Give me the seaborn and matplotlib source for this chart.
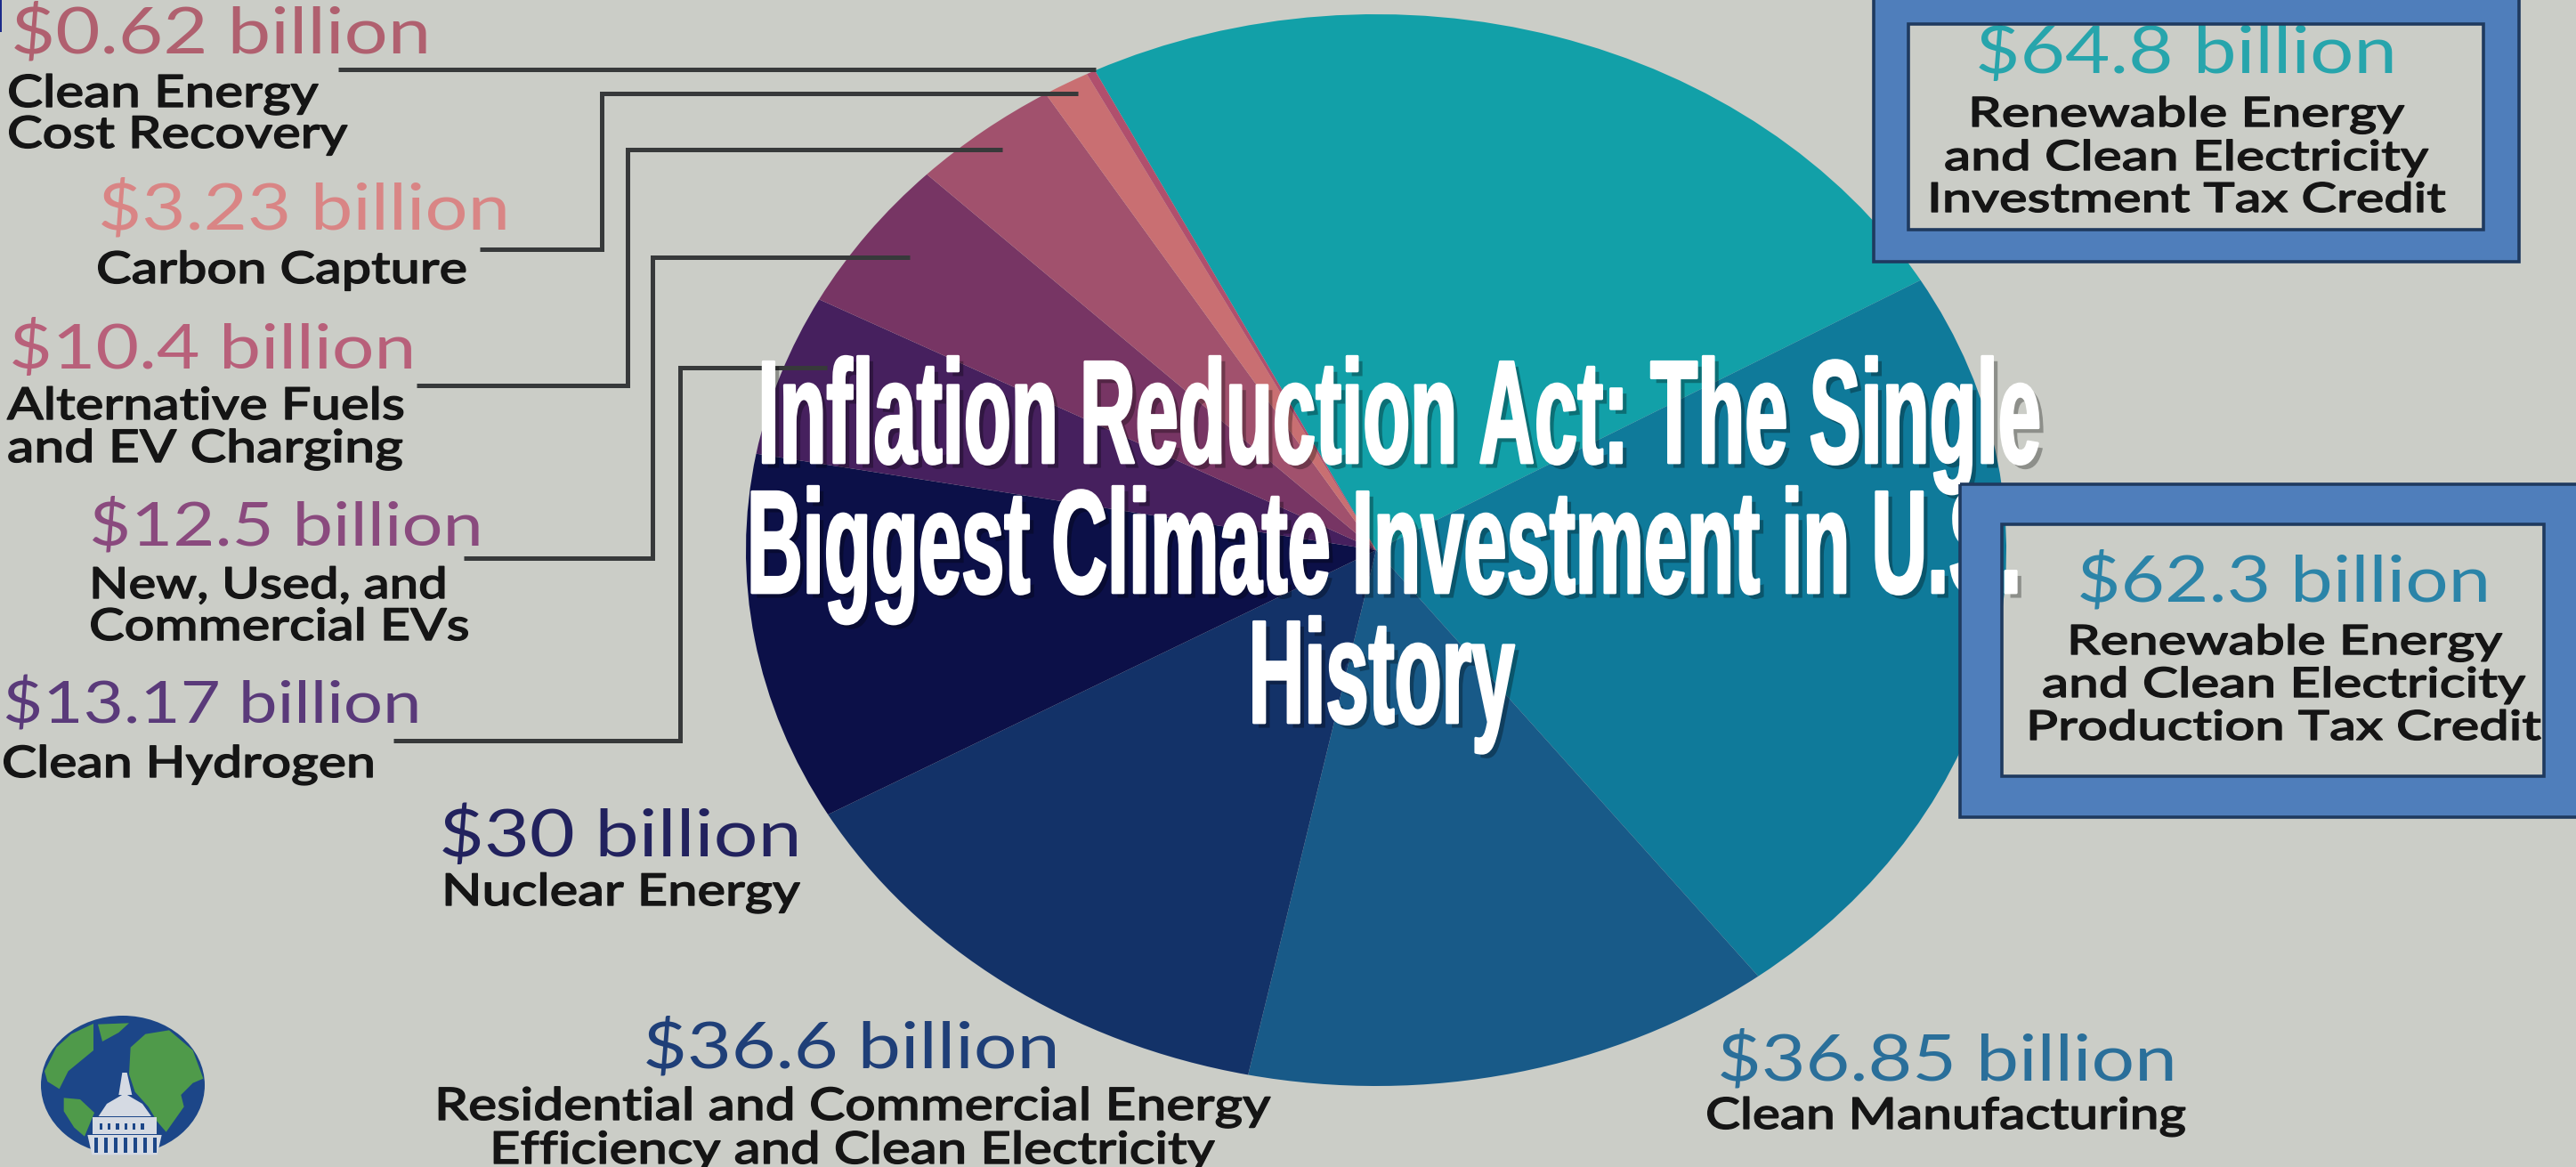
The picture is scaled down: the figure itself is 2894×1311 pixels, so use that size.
import os
import numpy as np
import seaborn as sns
import matplotlib
matplotlib.use("Agg")
import matplotlib.pyplot as plt
from matplotlib import font_manager as fm
from matplotlib import patheffects as pe
from matplotlib.patches import Ellipse, Polygon, Rectangle
from fontTools.ttLib import TTFont

W, H = 2894, 1311

# chart data, clockwise from the top of the pie
categories = [
    "Renewable Energy and Clean Electricity Investment Tax Credit",
    "Renewable Energy and Clean Electricity Production Tax Credit",
    "Clean Manufacturing",
    "Residential and Commercial Energy Efficiency and Clean Electricity",
    "Nuclear Energy",
    "Clean Hydrogen",
    "New, Used, and Commercial EVs",
    "Alternative Fuels and EV Charging",
    "Carbon Capture",
    "Clean Energy Cost Recovery",
]
values = [64.8, 62.3, 36.85, 36.6, 30, 13.17, 12.5, 10.4, 3.23, 0.62]
value_labels = ["$64.8 billion", "$62.3 billion", "$36.85 billion", "$36.6 billion",
                "$30 billion", "$13.17 billion", "$12.5 billion", "$10.4 billion",
                "$3.23 billion", "$0.62 billion"]
label_lines = [
    ["Renewable Energy", "and Clean Electricity", "Investment Tax Credit"],
    ["Renewable Energy", "and Clean Electricity", "Production Tax Credit"],
    ["Clean Manufacturing"],
    ["Residential and Commercial Energy", "Efficiency and Clean Electricity"],
    ["Nuclear Energy"],
    ["Clean Hydrogen"],
    ["New, Used, and", "Commercial EVs"],
    ["Alternative Fuels", "and EV Charging"],
    ["Carbon Capture"],
    ["Clean Energy", "Cost Recovery"],
]
title_lines = ["Inflation Reduction Act: The Single",
               "Biggest Climate Investment in U.S.",
               "History"]

# styles and layout (pixels of the final image)
bg = "#CBCDC7"
slice_colors = ["#12A0A8", "#0F7A9A", "#185A88", "#133268", "#0C1048",
                "#46205E", "#773564", "#A1516D", "#C96F72", "#B04F6D"]
value_colors = ["#27A5AC", "#2B84A8", "#2A6F9A", "#1F3F78", "#22225E",
                "#5A3A7A", "#8A4A7E", "#B8607A", "#D98585", "#B0606F"]
# x0, x1, baseline of the value, then the same for each label line
value_pos = [(2219, 2693, 82), (2333, 2798, 676), (1929, 2446, 1213), (722, 1191, 1200),
             (493, 900, 962), (3, 473, 812), (100, 543, 613), (10, 468, 414),
             (110, 572, 258), (12, 485, 60)]
line_pos = [
    [(2211, 2700, 142), (2184, 2727, 191), (2165, 2747, 238)],
    [(2322, 2810, 735), (2294, 2836, 783), (2276, 2854, 831)],
    [(1916, 2455, 1268)],
    [(488, 1426, 1258), (550, 1364, 1307)],
    [(496, 898, 1017)],
    [(2, 421, 873)],
    [(100, 502, 672), (100, 527, 719)],
    [(8, 454, 471), (8, 452, 519)],
    [(108, 524, 318)],
    [(8, 357, 120), (8, 390, 166)],
]
leaders = [
    [(380, 78), (1231, 78)],
    [(539, 280), (676, 280), (676, 105), (1211, 105)],
    [(468, 433), (705, 433), (705, 168), (1126, 168)],
    [(521, 627), (733, 627), (733, 289), (1022, 289)],
    [(442, 832), (764, 832), (764, 413), (929, 413)],
]
title_pos = [(1572, 520), (1555, 666), (1552, 812)]
cx, cy, rx, ry = 1546, 618, 708, 602


def stretched_font(family, weight, xscale):
    # no condensed/extended cuts installed, so write a scaled copy of the font
    src = fm.findfont(fm.FontProperties(family=family, weight=weight))
    font = TTFont(src)
    glyf = font["glyf"]
    for name in glyf.keys():
        g = glyf[name]
        if g.isComposite():
            for comp in g.components:
                comp.x = int(round(comp.x * xscale))
        elif g.numberOfContours > 0:
            g.coordinates.scale((xscale, 1))
            g.coordinates.toInt()
        if g.numberOfContours != 0:
            g.removeHinting()
    for name in glyf.keys():
        glyf[name].recalcBounds(glyf)
    hmtx = font["hmtx"]
    for name, (adv, lsb) in hmtx.metrics.items():
        hmtx.metrics[name] = (int(round(adv * xscale)), int(round(lsb * xscale)))
    for tag in ["kern", "GPOS", "GSUB", "hdmx", "VDMX", "LTSH"]:
        if tag in font:
            del font[tag]
    path = os.path.abspath(f"{family.replace(' ', '')}{weight}{int(xscale * 100)}.ttf")
    font.save(path)
    return fm.FontProperties(fname=path)


sns.set_theme(style="white", rc={"figure.facecolor": bg, "savefig.facecolor": bg})

fig = plt.figure(figsize=(W / 100, H / 100), dpi=100)

ax_pie = fig.add_axes([(cx - rx) / W, 1 - (cy + ry) / H, 2 * rx / W, 2 * ry / H])
ax_pie.pie(values, colors=sns.color_palette(slice_colors), startangle=116.5,
           counterclock=False, radius=1, wedgeprops={"linewidth": 0})
ax_pie.set_aspect("auto")
ax_pie.set_xlim(-1, 1)
ax_pie.set_ylim(-1, 1)
ax_pie.axis("off")

ax = fig.add_axes([0, 0, 1, 1], facecolor="none")
ax.set_xlim(0, W)
ax.set_ylim(H, 0)
ax.axis("off")

renderer = fig.canvas.get_renderer()


def fit_text(x0, x1, base, s, font, color, bolder=0):
    t = ax.text(x0, base, s, fontproperties=font, fontsize=30, color=color,
                ha="left", va="baseline", parse_math=False, zorder=3)
    w = t.get_window_extent(renderer).width
    t.set_fontsize(30 * (x1 - x0) / w)
    if bolder:
        t.set_path_effects([pe.withStroke(linewidth=bolder, foreground=color)])
    return t


value_font = stretched_font("Lato", "normal", 1.2)
left_font = stretched_font("Lato", "medium", 1.2)
box_font = stretched_font("Lato", "medium", 1.3)
title_font = stretched_font("Liberation Sans", "bold", 0.525)

for i, s in enumerate(value_labels):
    x0, x1, base = value_pos[i]
    fit_text(x0, x1, base, s, value_font, value_colors[i])
    for line, (lx0, lx1, lbase) in zip(label_lines[i], line_pos[i]):
        fit_text(lx0, lx1, lbase, line, box_font if i < 2 else left_font, "#151515", bolder=1.0)

for pts in leaders:
    xs, ys = zip(*pts)
    ax.plot(xs, ys, color="#37393A", lw=3.6, solid_joinstyle="miter",
            solid_capstyle="butt", zorder=2)

# title sits over the artwork, the blue frames cover it again
title_fx = [pe.withSimplePatchShadow(offset=(4, -4), shadow_rgbFace="black", alpha=0.3),
            pe.withStroke(linewidth=2, foreground="white")]
for s, (tx, ty) in zip(title_lines, title_pos):
    ax.text(tx, ty, s, fontproperties=title_font, fontsize=119, color="white",
            ha="center", va="baseline", zorder=5, path_effects=title_fx)

frame_blue = "#4F7EBB"
frame_edge = "#1F3A5F"
for ox0, oy0, ox1, oy1, ix0, iy0, ix1, iy1 in [(2105, -40, 2830, 294, 2144, 27, 2790, 258),
                                              (2202, 544, 2960, 918, 2249, 589, 2858, 872)]:
    ring = np.array([(ox0, oy0), (ox1, oy0), (ox1, oy1), (ox0, oy1), (ox0, oy0),
                     (ix0, iy0), (ix0, iy1), (ix1, iy1), (ix1, iy0), (ix0, iy0)])
    ax.add_patch(Polygon(ring, closed=True, fc=frame_blue, ec="none", zorder=6))
    ax.add_patch(Rectangle((ox0, oy0), ox1 - ox0, oy1 - oy0, fc="none", ec=frame_edge,
                           lw=2.6, zorder=7))
    ax.add_patch(Rectangle((ix0, iy0), ix1 - ix0, iy1 - iy0, fc="none", ec=frame_edge,
                           lw=2.6, zorder=7))

# little blue tick in the top left corner of the source image
ax.add_patch(Rectangle((0, 0), 2, 36, fc="#1B2A8A", ec="none", zorder=3))


# globe and capitol logo, outlines in 3x crop coordinates
def lg(points):
    return [(20 + x / 3, 1120 + y / 3) for x, y in points]


globe_blue = "#1C4688"
globe_green = "#4F9A4A"
dome = "#D5DAE3"
ax.add_patch(Ellipse((138, 1219), 184, 156, fc=globe_blue, ec="none", zorder=3))
land = [
    [(90, 250), (130, 170), (180, 125), (255, 90), (255, 180), (170, 250), (140, 310), (100, 285)],
    [(270, 92), (375, 88), (340, 120), (285, 150)],
    [(155, 340), (210, 345), (258, 390), (225, 470), (190, 440), (155, 385)],
    [(380, 170), (430, 125), (510, 112), (590, 180), (625, 275), (590, 290), (550, 330),
     (560, 370), (500, 455), (470, 420), (440, 370), (395, 320), (375, 260)],
]
for pts in land:
    ax.add_patch(Polygon(lg(pts), closed=True, fc=globe_green, ec="none", zorder=3.1))
capitol = [
    [(352, 255), (368, 255), (385, 330), (340, 330)],
    [(272, 402), (300, 360), (360, 325), (420, 360), (450, 402)],
    [(252, 405), (468, 405), (468, 462), (252, 462)],
    [(235, 465), (485, 465), (470, 532), (250, 532)],
]
for pts in capitol:
    ax.add_patch(Polygon(lg(pts), closed=True, fc=dome, ec="none", zorder=3.2))
for x in range(258, 470, 33):
    ax.add_patch(Polygon(lg([(x, 475), (x + 12, 475), (x + 12, 525), (x, 525)]), closed=True,
                         fc=globe_blue, ec="none", zorder=3.3))
for x in range(275, 440, 28):
    ax.add_patch(Polygon(lg([(x, 425), (x + 10, 425), (x + 10, 448), (x, 448)]), closed=True,
                         fc=globe_blue, ec="none", zorder=3.3))

fig.savefig("out.png", dpi=100)
